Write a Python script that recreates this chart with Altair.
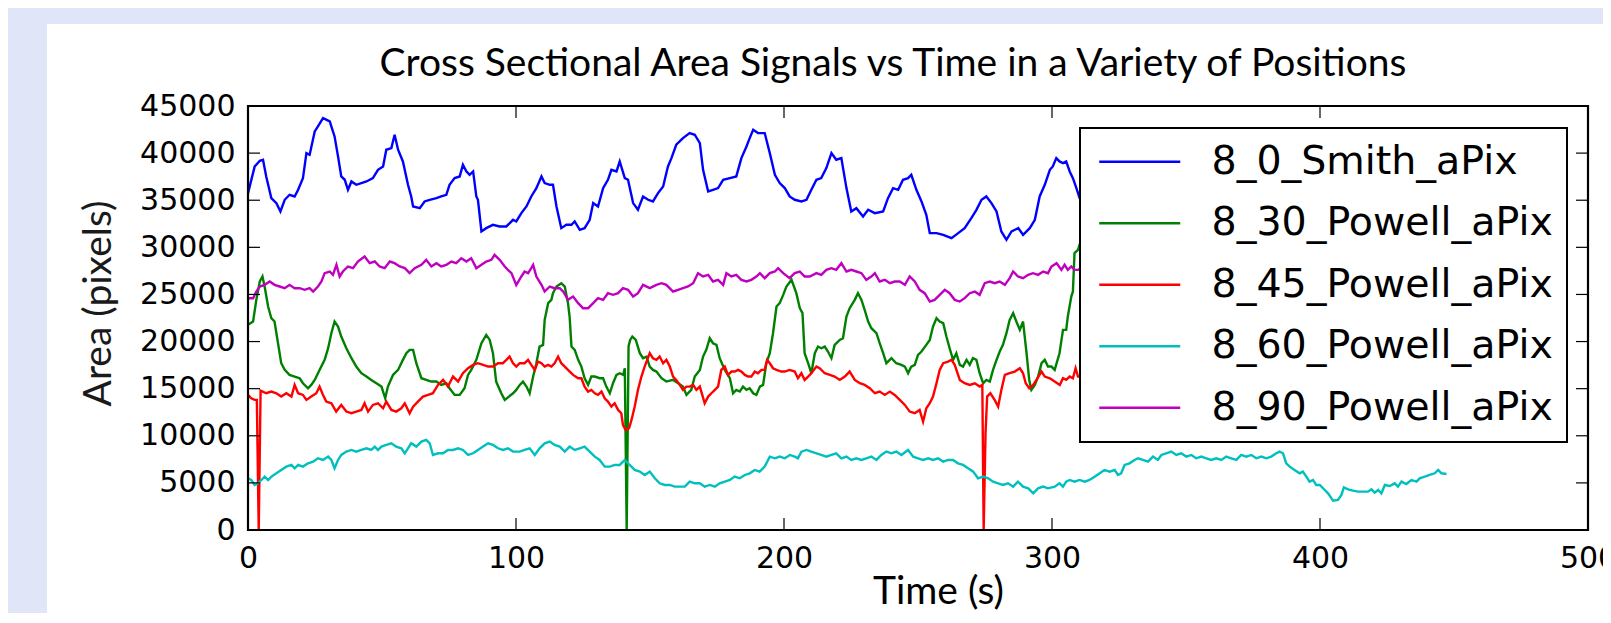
import altair as alt
import pandas as pd

TITLE = "Cross Sectional Area Signals vs Time in a Variety of Positions"
X_TITLE = "Time (s)"
Y_TITLE = "Area (pixels)"
SERIES = ["8_0_Smith_aPix", "8_30_Powell_aPix", "8_45_Powell_aPix", "8_60_Powell_aPix", "8_90_Powell_aPix"]
COLORS = ["#0000ff", "#008000", "#ff0000", "#00bfbf", "#bf00bf"]
X_TICKS = [0, 100, 200, 300, 400, 500]
Y_TICKS = [0, 5000, 10000, 15000, 20000, 25000, 30000, 35000, 40000, 45000]

BLUE_T = [0, 2.5, 4.4, 5.6, 6.8, 8.7, 10.6, 12.1, 13.7, 15.5, 17.4, 18.7, 20.5, 21.8, 23.0, 24.9, 26.1, 28.0, 30.5, 32.3,
          33.6, 34.8, 36.1, 37.3, 38.6, 40.4, 42.3, 44.2, 46.6, 48.5, 50.4, 51.6, 53.5, 54.7, 56.0, 57.8, 59.7, 60.9, 61.6, 64.1,
          65.9, 67.8, 70.3, 72.1, 74.0, 75.2, 77.1, 79.0, 80.2, 81.5, 82.7, 84.0, 85.2, 85.8, 87.1, 88.9, 91.4, 93.9, 96.4, 98.9,
          100.1, 102.0, 103.9, 105.7, 107.6, 109.5, 110.7, 112.6, 113.8, 115.1, 116.9, 118.8, 120.7, 121.9, 123.8, 125.6, 127.5, 128.8, 130.6, 132.5,
          134.3, 135.6, 137.5, 138.7, 140.6, 141.8, 143.7, 145.5, 147.4, 149.3, 151.1, 153.0, 154.9, 156.7, 158.0, 159.8, 162.3, 164.8, 166.7, 168.6,
          169.8, 171.7, 173.5, 175.4, 177.3, 179.8, 182.2, 184.1, 186.0, 187.2, 188.5, 190.3, 192.8, 194.7, 196.6, 198.4,
          200.3, 202.1, 204.0, 206.5, 208.4, 210.2, 212.1, 213.9, 215.8, 217.7, 219.5, 221.4, 223.3, 225.1, 227.0, 229.5, 231.4, 233.9, 237.0, 238.8,
          240.7, 242.6, 244.4, 246.3, 247.5, 249.4, 251.3, 253.1, 254.4, 256.9, 259.4, 262.5, 265.0, 267.4, 269.9, 271.8, 273.7, 275.5, 277.4, 279.3,
          281.1, 283.0, 284.9, 287.4, 289.2, 291.7, 293.6, 295.4, 297.3, 299.2,
          300.3, 301.6, 302.8, 304.1, 305.3, 306.6, 307.8, 309.1, 310.3, 311.5]
BLUE_V = [35754, 38586, 39188, 39294, 37524, 35223, 34692, 33807, 35046, 35577, 35400, 36108, 37347, 40002, 39825, 42303, 42834, 43719, 43365, 41772,
          39648, 37524, 37170, 36108, 36993, 36639, 36816, 36993, 37347, 38232, 38586, 40356, 40533, 41949, 40356, 39117, 36639, 35400, 34338, 34161,
          34869, 35046, 35223, 35400, 35577, 36639, 37347, 37524, 38763, 38055, 37701, 38055, 35400, 35046, 31683, 32037, 32391, 32214, 32214, 32922,
          32745, 33630, 34338, 35400, 36285, 37524, 36816, 36639, 36639, 34338, 32037, 32391, 32391, 32745, 31860, 32037, 32922, 34692, 34338, 36285,
          37170, 38232, 38055, 39117, 37347, 37170, 34692, 33984, 35400, 35046, 34869, 35754, 36462, 38586, 39471, 40887, 41595, 42126, 41949, 41064,
          38232, 35931, 36108, 36285, 37170, 37347, 37524, 39471, 40710, 41595, 42480, 42126, 42126, 40002, 37701, 36816,
          36285, 35400, 35046, 34869, 35046, 36108, 37170, 37347, 38409, 40002, 39294, 39471, 36285, 33807, 34161, 33276, 33984, 33630, 33807, 35223,
          36285, 36108, 37170, 37347, 37701, 36108, 34869, 33453, 31506, 31506, 31329, 30975, 31506, 32037, 33099, 33984, 35046, 35400, 34692, 33807,
          31683, 30798, 31683, 32037, 31329, 32037, 32922, 35400, 36639, 38232,
          38586, 39471, 39117, 38940, 39117, 38055, 37347, 36285, 35223, 34500]

GREEN_T = [0, 1.9, 3.1, 4.4, 5.4, 6.2, 7.5, 8.7, 9.9, 11.2, 12.4, 13.7, 15.5, 17.4, 19.3, 20.5, 22.4, 23.6, 24.9, 26.7,
           28.6, 29.9, 31.1, 32.3, 33.6, 34.8, 36.7, 38.6, 40.4, 42.3, 44.2, 46.0, 47.9, 49.8, 51.2, 52.2, 54.1, 56.0, 57.8, 59.1,
           60.3, 61.6, 62.8, 64.7, 66.5, 68.4, 70.3, 72.1, 74.0, 75.2, 77.1, 79.0, 80.8, 82.1, 83.3, 85.2, 87.1, 88.9, 90.2, 91.4,
           92.6, 94.5, 95.8,
           98.9, 100.1, 101.4, 102.6, 103.9, 105.1, 106.4, 107.6, 108.8, 110.1, 110.7, 112.0, 113.2, 113.8, 115.1, 116.9, 118.2, 119.4, 120.0, 120.7,
           121.9, 123.2, 124.4, 125.6, 126.9, 128.1, 129.4, 131.2, 132.5, 133.7, 135.0, 136.2, 137.5, 138.7, 140.0, 140.6, 141.3, 142.0, 142.6, 143.4,
           144.7, 146.2, 147.4, 148.7, 149.9, 151.1, 152.4, 154.3, 156.1, 158.6, 160.5, 162.3, 163.6, 165.4, 166.7, 168.6, 169.8, 171.0, 172.3, 173.5,
           174.8, 176.0, 177.9, 179.8, 181.0, 182.2, 183.5, 184.7, 186.0, 187.2, 188.5, 189.7, 191.0, 192.2, 193.4, 194.7, 195.9, 197.2, 198.4, 199.7,
           200.9,
           202.8, 204.6, 205.9, 206.9, 207.7, 209.0, 210.2, 211.5, 212.7, 213.9, 215.2, 216.4, 217.7, 218.9, 220.8, 222.0, 223.3, 224.5, 226.4, 227.6,
           228.9, 230.1, 231.4, 232.6, 234.5, 235.7, 237.0, 238.2, 240.1, 241.9, 243.8, 245.1, 246.3, 247.5, 248.8, 250.0, 251.3, 253.1, 254.4, 255.6,
           256.9, 258.1, 259.4, 260.6, 261.8, 263.1, 264.3, 265.6, 266.8, 268.1, 269.3, 270.5, 271.8, 273.0, 274.3, 275.5, 276.8, 278.0, 279.3, 280.5,
           281.7, 283.0, 284.2, 285.5, 286.7, 288.0, 289.2, 290.5, 291.5, 292.3, 293.6, 294.8, 296.1, 297.3, 298.5, 299.8, 301.0,
           302.8, 304.1, 305.3, 305.9, 307.2, 307.8, 308.4, 309.7, 310.5, 311.5]
GREEN_V = [21771, 22125, 24426, 26373, 26904, 25842, 23718, 22479, 22125, 19824, 17700, 16992, 16461, 16284, 16107, 15576, 15045, 15399, 15930, 16992,
           18054, 19293, 20886, 22125, 21594, 20532, 19293, 18231, 17346, 16638, 16284, 15930, 15576, 15222, 13983, 15222, 16461, 16992, 18054, 18762,
           19116, 19116, 17700, 16107, 15930, 15753, 15753, 15399, 15576, 15045, 14337, 14337, 15045, 16461, 16992, 18054, 19824, 20709, 20178, 18762,
           15753, 14514, 13806,
           14514, 14868, 15399, 15753, 15222, 14514, 16284, 17700, 19470, 19647, 22302, 24072, 24426, 25134, 25842, 26196, 25842, 24072, 22656, 19470,
           19116, 18054, 17346, 16107, 15399, 16284, 16284, 16107, 16107, 15222, 14514, 15576, 16461, 16638, 16461, 17169, 0, 19500, 20178, 20532,
           20178, 18762, 18231, 18408, 17346, 16992, 16815, 16107, 15753, 15930, 15576, 15222, 14337, 14868, 16284, 16992, 18408, 19116, 20355, 19824,
           19647, 18231, 16992, 16107, 14514, 14868, 14691, 15222, 14868, 15045, 14514, 14337, 15222, 15399, 17700, 18762, 20886, 23718, 24072, 24957,
           25842,
           26550, 25134, 23541, 23010, 18762, 17700, 16638, 18762, 19470, 19293, 19470, 18939, 18231, 19647, 20178, 20355, 22656, 23541, 24426, 25134,
           24426, 23364, 22125, 21417, 20886, 19824, 18762, 17700, 18231, 17700, 17523, 17346, 16638, 17346, 17523, 18585, 18939, 19647, 20178, 21594,
           22479, 22125, 21948, 20532, 19293, 18054, 18762, 17523, 17346, 18054, 17523, 18231, 18054, 16638, 15576, 15930, 15753, 16992, 18054, 18939,
           19647, 20886, 22302, 23010, 22125, 21240, 22125, 18762, 15930, 14868, 15399, 16284, 17700, 18054, 17346, 17346, 16992,
           18762, 21240, 21240, 22656, 24780, 25311, 29382, 29736, 30444, 30600]

RED_T = [0, 1.2, 2.5, 3.3, 4.0, 4.7, 6.8, 8.7, 10.6, 12.4, 14.3, 16.2, 17.4, 18.7, 20.5, 21.8, 23.6, 25.5, 26.7, 28.0,
         29.2, 31.1, 32.9, 34.8, 36.7, 38.6, 40.4, 42.3, 43.5, 44.8, 46.6, 48.5, 50.4, 51.6, 53.5, 55.3, 57.2, 58.5, 60.3, 61.6,
         63.4, 65.3, 67.2, 69.0, 70.9, 72.8, 74.6, 76.5, 78.4, 80.2, 82.1, 84.0, 85.8, 87.7, 89.6, 91.4, 93.3, 95.1, 96.4, 97.6,
         98.9,
         100.1, 101.4, 103.2, 104.5, 105.7, 107.0, 108.2, 109.5, 110.7, 112.0, 113.2, 114.4, 115.7, 116.9, 118.2, 119.4, 121.3, 123.2, 124.4, 125.6,
         126.9, 128.1, 129.4, 130.6, 131.9, 133.1, 134.3, 135.6, 136.8, 138.1, 139.3, 139.9, 140.9, 142.2, 143.1, 144.3, 145.5, 146.8, 148.0, 149.9,
         151.1, 152.4, 153.6, 154.9, 156.1, 157.4, 158.6, 159.8, 161.1, 162.3, 163.6, 164.8, 166.1, 167.3, 168.6, 170.4, 171.7, 172.9, 174.2, 175.4,
         176.6, 177.9, 179.1, 180.4, 181.6, 182.9, 184.1, 185.4, 186.6, 187.8, 189.1, 190.3, 191.6, 192.8, 193.7, 194.7, 195.9, 197.2, 199.0,
         200.3, 202.1, 204.0, 205.2, 206.5, 207.7, 209.0, 210.2, 212.1, 213.3, 215.2, 217.1, 218.9, 220.8, 222.7, 224.5, 226.4, 228.3, 230.1, 232.0,
         233.9, 235.7, 237.6, 239.5, 241.3, 243.2, 245.1, 246.9, 248.8, 250.6, 251.9, 253.1, 254.4, 255.6, 256.9, 258.1, 259.4, 261.2, 262.5, 263.7,
         265.6, 267.4, 269.3, 271.2, 273.0, 274.0, 274.5, 275.2, 275.8, 277.0, 278.6, 279.9, 281.1, 282.4, 284.2, 286.1, 288.0, 289.2, 290.2, 291.5,
         293.0, 294.2, 296.1, 297.3, 299.2, 301.0, 302.9,
         304.1, 305.3, 306.6, 307.8, 308.8, 309.7, 310.5, 311.5]
RED_V = [14337, 13983, 13806, 13800, 0, 14800, 14514, 14691, 14514, 14160, 14514, 14160, 15399, 14514, 14337, 13806, 14160, 14514, 15222, 14337,
         13629, 13452, 12567, 13275, 12567, 12390, 12567, 12744, 13452, 12567, 13275, 13452, 12921, 13629, 12744, 12567, 12921, 13452, 12390, 13098,
         13629, 14160, 14337, 14514, 15399, 15930, 15222, 16284, 15753, 16638, 17169, 17523, 17700, 17523, 17346, 17346, 17700, 17700, 18054, 18408,
         17700,
         17346, 17700, 17700, 18054, 17523, 16992, 17877, 17700, 17346, 17523, 17346, 17700, 18408, 17700, 17346, 16992, 16461, 16107, 16107, 15222,
         14691, 14868, 14514, 14337, 14691, 13983, 13629, 13098, 13452, 12744, 12390, 11151, 10620, 10797, 11682, 13098, 14868, 16284, 17346, 18762,
         18231, 18054, 18408, 17700, 18054, 17346, 16284, 15930, 15399, 14868, 15222, 15222, 15399, 14868, 15222, 13452, 14160, 14514, 14868, 15222,
         16992, 17346, 16461, 16815, 16815, 16992, 16815, 16461, 16284, 16284, 16815, 16638, 16992, 16992, 18054, 17700, 17169, 16992, 16815,
         16815, 16992, 16815, 16107, 16638, 15930, 16284, 16638, 17346, 17169, 16638, 16461, 16284, 15930, 16284, 16815, 15930, 15576, 15399, 15045,
         14514, 14691, 14337, 14691, 14337, 13806, 13275, 12567, 12390, 12744, 11505, 12921, 13452, 14160, 15576, 16992, 17700, 17877, 18054, 17523,
         15930, 15576, 15399, 15576, 15222, 15399, 0, 10266, 14160, 14514, 13806, 13098, 14868, 16461, 16638, 16815, 17169, 16638, 15576, 15045,
         15399, 15930, 16815, 16284, 16107, 15753, 15399,
         16107, 15930, 16284, 16107, 17169, 16284, 16284, 16400]

CYAN_T = [0, 1.2, 2.5, 3.7, 5.0, 6.2, 7.5, 8.7, 10.6, 12.4, 14.3, 16.2, 17.4, 18.7, 20.5, 22.4, 24.3, 26.1, 28.0, 29.9,
          31.1, 32.3, 33.6, 34.8, 36.7, 38.6, 40.4, 42.3, 44.2, 46.0, 47.3, 48.5, 49.8, 51.6, 53.5, 55.3, 57.2, 58.5, 59.7, 60.9,
          62.8, 64.7, 66.5, 67.8, 69.0, 70.9, 72.8, 74.6, 76.5, 78.4, 80.2, 82.1, 84.0, 85.8, 87.7, 89.6, 91.4, 93.3, 95.1, 97.0,
          98.9,
          101.4, 103.2, 105.1, 107.0, 108.8, 110.7, 112.6, 114.4, 116.3, 118.2, 120.0, 121.9, 123.8, 125.6, 127.5, 129.4, 131.2, 133.1, 135.0, 136.8,
          138.7, 140.6, 142.4, 144.3, 146.2, 148.0, 149.9, 151.8, 153.6, 155.5, 157.4, 159.2, 161.1, 163.0, 164.8, 166.7, 168.6, 170.4, 172.3, 174.2,
          176.0, 177.9, 179.8, 181.6, 183.5, 185.4, 187.2, 189.1, 190.9, 192.8, 194.7, 196.6, 198.4, 200.3, 202.2,
          204.0, 205.2, 206.5, 208.4, 210.2, 212.1, 213.9, 215.8, 217.7, 219.5, 221.4, 223.3, 225.1, 227.0, 228.9, 230.7, 232.6, 234.5, 236.3, 238.2,
          240.1, 241.9, 243.8, 246.3, 248.2, 250.0, 251.9, 253.8, 255.6, 257.5, 259.4, 261.2, 263.1, 264.9, 266.8, 268.7, 270.6, 272.4, 274.3, 276.2,
          278.0, 279.9, 281.7, 283.6, 285.5, 287.3, 289.2, 291.1, 293.0, 294.8, 296.7, 298.5,
          301.0, 302.8, 304.1, 305.3, 306.6, 308.4, 310.3, 312.2, 314.0, 315.9, 317.8, 319.6, 321.5, 323.4, 324.6, 325.8, 327.1, 328.9, 330.8, 332.1,
          333.9, 335.8, 337.7, 339.5, 340.8, 342.6, 344.5, 346.4, 348.2, 350.1, 352.0, 353.8, 355.7, 357.6, 359.4, 361.3, 363.2, 365.0, 366.9, 368.8,
          370.6, 372.5, 374.4, 376.2, 378.1, 380.0, 381.8, 383.7, 384.9, 386.2, 387.4, 388.7, 390.5, 392.4, 393.6, 394.9, 396.1, 397.4, 398.6,
          399.9, 401.8, 403.0, 404.3, 404.9, 406.7, 408.0, 408.9, 410.5, 412.3, 414.2, 416.1, 417.9, 419.2, 420.4, 421.7, 422.9, 424.2, 426.0, 427.9,
          429.1, 430.4, 432.2, 434.1, 436.0, 437.2, 439.1, 440.9, 442.8, 444.1, 445.3, 447.2]
CYAN_V = [5487, 5310, 4779, 4956, 5310, 5664, 5310, 5664, 6018, 6372, 6726, 6903, 6549, 6903, 6726, 7080, 7257, 7611, 7434, 7788,
          7434, 6549, 7434, 7965, 8319, 8496, 8319, 8496, 8673, 8496, 8850, 8496, 8850, 9027, 9204, 8850, 8673, 8142, 8673, 9204,
          8850, 9381, 9558, 9204, 7965, 8142, 8142, 8496, 8496, 8673, 8496, 7965, 8142, 8496, 8850, 9204, 9027, 8673, 8496, 8673,
          8319,
          8319, 8496, 8673, 7965, 8673, 9204, 9381, 9027, 8850, 8319, 8850, 8496, 8673, 8850, 8319, 7788, 7434, 6726, 6726, 6903,
          6903, 7434, 6903, 6372, 6195, 5841, 6195, 5487, 4956, 4779, 4779, 4602, 4602, 4602, 5133, 4956, 4956, 4602, 4779, 4602,
          4956, 5133, 5310, 5664, 5487, 5841, 6018, 6372, 6195, 6726, 7788, 7611, 7788, 7611, 7965,
          7788, 7611, 8319, 8496, 8319, 8142, 7965, 7788, 7965, 8142, 7611, 7788, 7434, 7611, 7434, 7611, 7788, 7434, 7965, 8319,
          8142, 8319, 7965, 8496, 7788, 7611, 7434, 7611, 7434, 7611, 7257, 7434, 7434, 7080, 6903, 6549, 6195, 5487, 5664, 5487,
          5133, 4956, 4779, 4956, 4602, 5133, 4602, 4425, 3894, 4425, 4602, 4425,
          4602, 4956, 4602, 5133, 5310, 5133, 5310, 5133, 5310, 5664, 6018, 6372, 6195, 6372, 5841, 6018, 6903, 7080, 7434, 7611,
          7434, 7257, 7788, 7434, 7965, 8142, 8319, 7965, 8142, 7788, 7965, 7611, 7788, 7611, 7434, 7611, 7434, 7788, 7611, 7434,
          7965, 7788, 7965, 7611, 7788, 7611, 7788, 8142, 8319, 8142, 7080, 6726, 6372, 6018, 6195, 5664, 5133, 5310, 4779,
          4779, 4248, 3894, 3363, 3115, 3186, 3717, 4531, 4319, 4177, 4071, 4071, 4071, 4319, 3965, 4248, 3894, 4779, 4672, 4955,
          4602, 5133, 4885, 5310, 5133, 5487, 5664, 5840, 6017, 6371, 6017, 5947]

MAGENTA_T = [0, 1.9, 3.1, 4.4, 6.2, 8.1, 9.9, 11.8, 13.7, 15.5, 17.4, 19.3, 21.1, 23.0, 24.3, 26.1, 27.4, 28.6, 30.5, 31.7,
             33.0, 34.2, 35.4, 37.3, 39.2, 41.0, 43.5, 45.4, 47.3, 49.1, 51.0, 52.9, 54.7, 56.6, 58.5, 60.3, 62.2, 64.7, 66.5, 68.4,
             70.3, 72.1, 74.0, 75.9, 77.7, 79.6, 81.5, 83.3, 85.2, 87.1, 88.9, 90.8, 92.0, 93.9, 95.8, 97.0, 98.3, 100.1,
             102.0, 103.2, 104.5, 105.7, 106.4, 107.6, 109.5, 110.7, 112.6, 114.4, 116.3, 117.6, 119.4, 121.3, 123.2, 125.0, 126.9, 128.8, 130.6, 132.5,
             134.3, 136.2, 138.1, 139.9, 141.8, 143.7, 145.5, 147.4, 149.9, 152.4, 154.3, 156.1, 158.6, 160.5, 162.3, 164.2, 166.1, 167.9, 169.8, 171.7,
             173.5, 175.4, 177.3, 178.5, 180.4, 182.2, 184.1, 186.0, 187.8, 189.7, 191.0, 192.8, 194.7, 196.6, 197.8, 199.7,
             202.1, 204.0, 205.9, 207.7, 209.6, 212.1, 213.9, 215.8, 217.7, 219.5, 221.4, 223.3, 225.1, 227.0, 228.9, 230.7, 232.6, 233.9, 235.7, 237.6,
             239.5, 241.3, 243.2, 245.1, 246.9, 248.8, 250.6, 252.5, 254.4, 256.2, 258.1, 260.0, 261.8, 263.7, 265.6, 267.4, 269.3, 271.2, 273.0, 274.9,
             276.8, 278.6, 280.5, 282.4, 284.2, 285.5, 287.3, 289.2, 291.1, 292.9, 294.8, 296.7, 298.5, 299.8, 301.7,
             303.5, 304.7, 305.9, 307.2, 308.4, 309.7, 311.0]
MAGENTA_V = [24603, 24603, 25311, 25842, 26019, 26373, 26019, 25842, 25665, 26019, 25665, 25665, 25488, 25665, 25311, 25842, 26373, 27258, 27435, 27081,
             28143, 26904, 27435, 27966, 27789, 28497, 29028, 28320, 28497, 27966, 27789, 28497, 28320, 27966, 27789, 27258, 27789, 28143, 28674, 27966,
             28320, 27966, 28143, 28497, 28320, 28851, 28497, 28851, 27789, 28143, 28497, 28674, 29205, 28674, 27966, 27612, 27258, 26000,
             26904, 27435, 27258, 27789, 28143, 26904, 26019, 25311, 25842, 25665, 25665, 25311, 24426, 24780, 24072, 23541, 23541, 24072, 24603, 24426,
             25134, 24957, 25134, 25665, 25488, 24780, 25134, 26019, 25665, 26019, 26196, 26019, 25311, 25488, 25665, 25842, 26196, 27258, 26904, 27081,
             26373, 26550, 26019, 27258, 26904, 27081, 26550, 26373, 26550, 26904, 27258, 26727, 27258, 27435, 27789, 27258,
             26727, 27258, 27435, 26904, 26904, 27258, 27081, 27612, 27789, 27612, 28320, 27435, 27612, 27435, 27258, 26550, 26904, 27258, 26373, 26550,
             26196, 26373, 26373, 26019, 26904, 26373, 25488, 25134, 24249, 24426, 24957, 25488, 25134, 24426, 24249, 24603, 25134, 25311, 24957, 26196,
             26373, 26196, 26373, 26019, 26727, 27435, 26904, 26727, 27081, 27258, 27081, 27435, 27258, 27966, 28320,
             27612, 28143, 27612, 27966, 27612, 27612, 27800]

W, H = 1340, 424

rows = []
for name, ts, vs in zip(SERIES, [BLUE_T, GREEN_T, RED_T, CYAN_T, MAGENTA_T],
                        [BLUE_V, GREEN_V, RED_V, CYAN_V, MAGENTA_V]):
    assert len(ts) == len(vs), (name, len(ts), len(vs))
    for t, v in zip(ts, vs):
        rows.append({"series": name, "t": t, "v": v})
df = pd.DataFrame(rows)

xscale = alt.Scale(domain=[0, 500], nice=False, zero=False)
yscale = alt.Scale(domain=[0, 45000], nice=False, zero=False)

TXT_FONT = "Lato"
TXT_SIZE = 39

x_axis = alt.Axis(values=X_TICKS, format="d", labelFont="DejaVu Sans", labelFontSize=30, labelColor="black",
                  labelPadding=13, labelOverlap=False, labelFlush=False, ticks=False, domain=False, grid=False,
                  title=X_TITLE, titleFont=TXT_FONT, titleFontSize=TXT_SIZE, titleFontWeight="normal", titleColor="black",
                  titleX=690, titleY=61, titleBaseline="middle", titleAlign="center", zindex=1)
y_axis = alt.Axis(values=Y_TICKS, format="d", labelFont="DejaVu Sans", labelFontSize=30, labelColor="black",
                  labelPadding=13, labelOverlap=False, ticks=False, domain=False, grid=False,
                  title=Y_TITLE, titleFont=TXT_FONT, titleFontSize=TXT_SIZE, titleFontWeight="normal", titleColor="#1a1a1a",
                  titleX=-150, titleY=197, titleAngle=270, titleBaseline="middle", titleAlign="center", zindex=1)

x_enc = alt.X("t:Q", scale=xscale, axis=x_axis)
y_enc = alt.Y("v:Q", scale=yscale, axis=y_axis)

one = pd.DataFrame({"k": [0]})
panel = alt.Chart(one).mark_rect(color="white").encode(
    x=alt.value(-201), x2=alt.value(W + 200), y=alt.value(-82), y2=alt.value(H + 200))

lines = alt.Chart(df).mark_line(strokeWidth=2.4).encode(
    x=x_enc, y=y_enc,
    color=alt.Color("series:N", sort=SERIES, scale=alt.Scale(domain=SERIES, range=COLORS),
                    legend=alt.Legend(title=None, orient="none", legendX=832, legendY=22, direction="vertical",
                                      labelFont="DejaVu Sans", labelFontSize=39.5, labelColor="black", labelLimit=1000,
                                      symbolType="M-2.7,0H2.7", symbolSize=900, symbolStrokeWidth=2.3,
                                      fillColor="white", strokeColor="black", padding=14, rowPadding=20.5,
                                      symbolOffset=26, labelOffset=52, zindex=1)),
)

ytick_df = pd.DataFrame({"v": Y_TICKS})
xtick_df = pd.DataFrame({"t": X_TICKS})
left_ticks = alt.Chart(ytick_df).mark_rule(color="black", strokeWidth=1.2).encode(y=y_enc, x=alt.value(0), x2=alt.value(12))
right_ticks = alt.Chart(ytick_df).mark_rule(color="black", strokeWidth=1.2).encode(y=y_enc, x=alt.value(W - 12), x2=alt.value(W))
bottom_ticks = alt.Chart(xtick_df).mark_rule(color="black", strokeWidth=1.2).encode(x=x_enc, y=alt.value(H - 12), y2=alt.value(H))
top_ticks = alt.Chart(xtick_df).mark_rule(color="black", strokeWidth=1.2).encode(x=x_enc, y=alt.value(0), y2=alt.value(12))

frame = alt.Chart(one).mark_rect(fillOpacity=0, stroke="black", strokeWidth=2.2).encode(
    x=alt.value(0), x2=alt.value(W), y=alt.value(0), y2=alt.value(H))

title_text = alt.Chart(pd.DataFrame({"label": [TITLE]})).mark_text(
    font=TXT_FONT, fontSize=TXT_SIZE, color="black", align="center", baseline="middle").encode(
    text="label:N", x=alt.value(645), y=alt.value(-42))

chart = alt.layer(panel, lines, left_ticks, right_ticks, bottom_ticks, top_ticks, frame, title_text).properties(
    width=W, height=H,
    padding={"left": 240, "top": 98, "right": 15, "bottom": 83},
    autosize=alt.AutoSizeParams(type="none"),
).configure(background="#e0e6f8").configure_view(stroke=None).configure_legend(strokeWidth=2)

chart.save("out.html", embed_options={"renderer": "svg", "actions": False})
